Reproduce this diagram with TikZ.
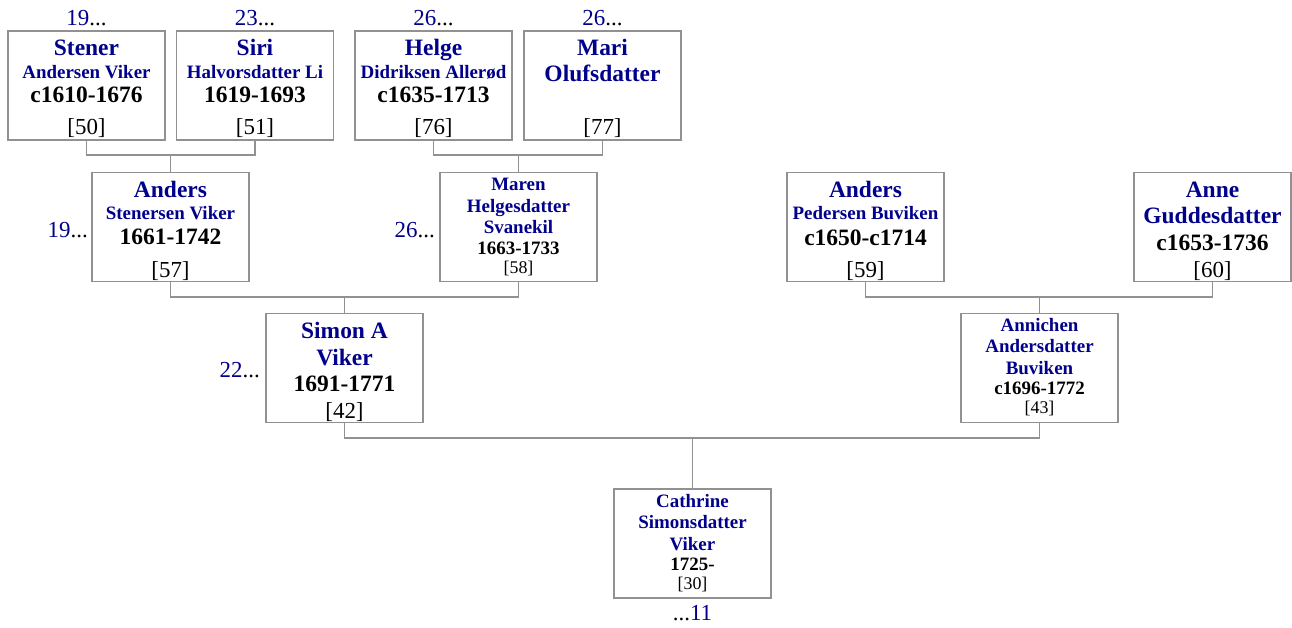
\documentclass[tikz,border=0pt]{standalone}
\usepackage{fontspec}
\setmainfont{Liberation Serif}
\definecolor{navy}{RGB}{0,0,139}
\definecolor{lgray}{RGB}{145,145,145}
\begin{document}
\begin{tikzpicture}[x=0.75pt,y=-0.75pt,
  box/.style={draw=lgray, line width=1.1pt, minimum width=117.75pt, minimum height=81.75pt, inner sep=0pt},
  conn/.style={draw=lgray, line width=1.1pt},
  txt/.style={anchor=base, inner sep=0pt},
  nm/.style={txt, font=\fontsize{17.6}{20}\selectfont\bfseries, text=navy},
  sub/.style={txt, font=\fontsize{14.2}{16}\selectfont\bfseries, text=navy},
  dt/.style={txt, font=\fontsize{17.6}{20}\selectfont\bfseries, text=black},
  sdt/.style={txt, font=\fontsize{14.2}{16}\selectfont\bfseries, text=black},
  idn/.style={txt, font=\fontsize{17.2}{20}\selectfont},
  sid/.style={txt, font=\fontsize{13.4}{16}\selectfont},
  ref/.style={txt, font=\fontsize{17.2}{20}\selectfont},
]
\useasboundingbox (0,0) rectangle (1292,628);

% boxes
\node[box] (stener) at (86.5,85.5) {};
\node[box] (siri) at (255,85.5) {};
\node[box] (helge) at (433.5,85.5) {};
\node[box] (mari) at (602.5,85.5) {};
\node[box] (anders) at (170.5,227) {};
\node[box] (maren) at (518.5,227) {};
\node[box] (andersp) at (865.5,227) {};
\node[box] (anne) at (1212.5,227) {};
\node[box] (simon) at (344.5,368) {};
\node[box] (annichen) at (1039.5,368) {};
\node[box] (cathrine) at (692.5,543.5) {};

% connectors
\draw[conn] (stener.south) -- (stener.south |- 0,155) -- (siri.south |- 0,155) -- (siri.south);
\draw[conn] (anders.north) -- (anders.north |- 0,155);
\draw[conn] (helge.south) -- (helge.south |- 0,155) -- (mari.south |- 0,155) -- (mari.south);
\draw[conn] (maren.north) -- (maren.north |- 0,155);
\draw[conn] (anders.south) -- (anders.south |- 0,297) -- (maren.south |- 0,297) -- (maren.south);
\draw[conn] (simon.north) -- (simon.north |- 0,297);
\draw[conn] (andersp.south) -- (andersp.south |- 0,297) -- (anne.south |- 0,297) -- (anne.south);
\draw[conn] (annichen.north) -- (annichen.north |- 0,297);
\draw[conn] (simon.south) -- (simon.south |- 0,438) -- (annichen.south |- 0,438) -- (annichen.south);
\draw[conn] (cathrine.north) -- (cathrine.north |- 0,438);

% Stener
\node[nm] (stener-a) at (86.5,55) {Stener};
\node[sub] (stener-b) at (86.5,78) {Andersen Viker};
\node[dt] (stener-c) at (86.5,102) {c1610-1676};
\node[idn] (stener-d) at (86.5,134) {[50]};
% Siri
\node[nm] (siri-a) at (255,55) {Siri};
\node[sub] (siri-b) at (255,78) {Halvorsdatter Li};
\node[dt] (siri-c) at (255,102) {1619-1693};
\node[idn] (siri-d) at (255,134) {[51]};
% Helge
\node[nm] (helge-a) at (433.5,55) {Helge};
\node[sub] (helge-b) at (433.5,78) {Didriksen Allerød};
\node[dt] (helge-c) at (433.5,102) {c1635-1713};
\node[idn] (helge-d) at (433.5,134) {[76]};
% Mari
\node[nm] (mari-a) at (602.5,55) {Mari};
\node[nm] (mari-b) at (602.5,81) {Olufsdatter};
\node[idn] (mari-d) at (602.5,134) {[77]};
% Anders
\node[nm] (anders-a) at (170.5,197) {Anders};
\node[sub] (anders-b) at (170.5,219) {Stenersen Viker};
\node[dt] (anders-c) at (170.5,244) {1661-1742};
\node[idn] (anders-d) at (170.5,277) {[57]};
% Maren
\node[sub] (maren-a) at (518.5,190) {Maren};
\node[sub] (maren-b) at (518.5,212) {Helgesdatter};
\node[sub] (maren-c) at (518.5,233) {Svanekil};
\node[sdt] (maren-e) at (518.5,254) {1663-1733};
\node[sid] (maren-d) at (518.5,273) {[58]};
% Anders P
\node[nm] (andersp-a) at (865.5,197) {Anders};
\node[sub] (andersp-b) at (865.5,219) {Pedersen Buviken};
\node[dt] (andersp-c) at (865.5,245) {c1650-c1714};
\node[idn] (andersp-d) at (865.5,277) {[59]};
% Anne
\node[nm] (anne-a) at (1212.5,197) {Anne};
\node[nm] (anne-b) at (1212.5,223) {Guddesdatter};
\node[dt] (anne-c) at (1212.5,250) {c1653-1736};
\node[idn] (anne-d) at (1212.5,277) {[60]};
% Simon
\node[nm] (simon-a) at (344.5,338) {Simon A};
\node[nm] (simon-b) at (344.5,365) {Viker};
\node[dt] (simon-c) at (344.5,391) {1691-1771};
\node[idn] (simon-d) at (344.5,418) {[42]};
% Annichen
\node[sub] (annichen-a) at (1039.5,331) {Annichen};
\node[sub] (annichen-b) at (1039.5,352) {Andersdatter};
\node[sub] (annichen-c) at (1039.5,374) {Buviken};
\node[sdt] (annichen-e) at (1039.5,394) {c1696-1772};
\node[sid] (annichen-d) at (1039.5,413) {[43]};
% Cathrine
\node[sub] (cathrine-a) at (692.5,507) {Cathrine};
\node[sub] (cathrine-b) at (692.5,528) {Simonsdatter};
\node[sub] (cathrine-c) at (692.5,550) {Viker};
\node[sdt] (cathrine-e) at (692.5,570) {1725-};
\node[sid] (cathrine-d) at (692.5,589) {[30]};

% references
\node[ref] (r-stener) at (86.5,25) {\textcolor{navy}{19}...};
\node[ref] (r-siri) at (255,25) {\textcolor{navy}{23}...};
\node[ref] (r-helge) at (433.5,25) {\textcolor{navy}{26}...};
\node[ref] (r-mari) at (602.5,25) {\textcolor{navy}{26}...};
\node[ref, anchor=base east] (r-anders) at (88,237) {\textcolor{navy}{19}...};
\node[ref, anchor=base east] (r-maren) at (435,237) {\textcolor{navy}{26}...};
\node[ref, anchor=base east] (r-simon) at (260,377) {\textcolor{navy}{22}...};
\node[ref] (r-cathrine) at (692.5,620) {...\textcolor{navy}{11}};
\end{tikzpicture}
\end{document}
